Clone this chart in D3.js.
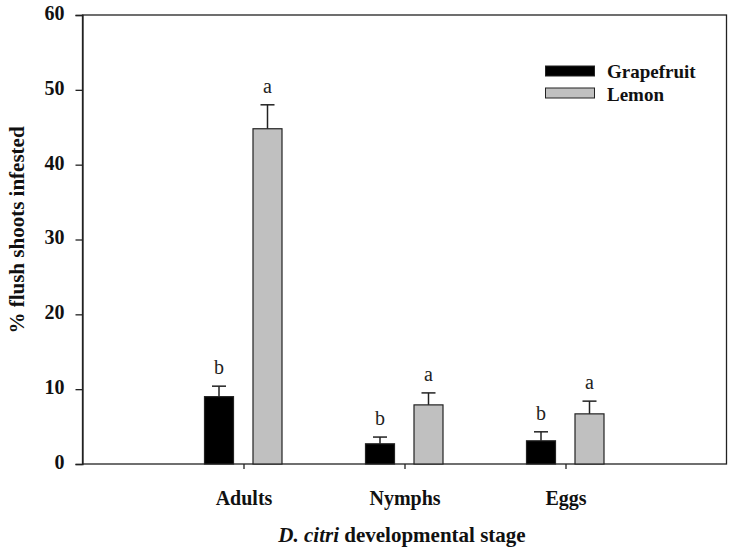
<!DOCTYPE html>
<html>
<head>
<meta charset="utf-8">
<script src="https://cdn.jsdelivr.net/npm/d3@7"></script>
<style>
  body { margin: 0; background: #fff; }
</style>
</head>
<body>
<svg id="chart" width="733" height="553"></svg>
<script>
const categories = ["Adults", "Nymphs", "Eggs"];
const seriesNames = ["Grapefruit", "Lemon"];
const grapefruit = [9.0, 2.7, 3.1];
const grapefruitErr = [1.4, 0.9, 1.2];
const lemon = [44.8, 7.9, 6.7];
const lemonErr = [3.2, 1.6, 1.7];
const grapefruitLetters = ["b", "b", "b"];
const lemonLetters = ["a", "a", "a"];
const yTicks = [0, 10, 20, 30, 40, 50, 60];

const FONT = "'Liberation Serif', 'Times New Roman', serif";
const svg = d3.select("#chart");
const L = 82.5, R = 726.5, T = 15, B = 464;

const x = d3.scalePoint().domain(categories).range([L, R]).padding(1);
const y = d3.scaleLinear().domain([0, 60]).range([B, T]);
const offset = d3.scaleOrdinal().domain(seriesNames).range([-24.5, 24]);
const colors = d3.scaleOrdinal().domain(seriesNames).range(["#000000", "#c0c0c0"]);
const barW = 29;

const data = [];
categories.forEach((c, i) => {
  data.push({cat: c, s: "Grapefruit", v: grapefruit[i], e: grapefruitErr[i], l: grapefruitLetters[i]});
  data.push({cat: c, s: "Lemon", v: lemon[i], e: lemonErr[i], l: lemonLetters[i]});
});

// frame
svg.append("rect").attr("x", L).attr("y", T).attr("width", R - L).attr("height", B - T)
  .attr("fill", "none").attr("stroke", "#222").attr("stroke-width", 1.3);

// y axis
const yAxis = svg.append("g").attr("transform", `translate(${L},0)`)
  .call(d3.axisLeft(y).tickValues(yTicks).tickSize(7).tickPadding(11));
yAxis.select(".domain").attr("stroke", "#222").attr("stroke-width", 1.3);
yAxis.selectAll(".tick line").attr("stroke", "#222").attr("stroke-width", 1.3);
yAxis.selectAll("text").attr("dy", "0.22em")
  .style("font-family", FONT).style("font-size", "20px").style("font-weight", "bold").style("fill", "#111");

// x axis
const xAxis = svg.append("g").attr("transform", `translate(0,${B})`)
  .call(d3.axisBottom(x).tickSize(5).tickPadding(22));
xAxis.select(".domain").remove();
xAxis.selectAll(".tick line").attr("stroke", "#222").attr("stroke-width", 1.3);
xAxis.selectAll("text")
  .style("font-family", FONT).style("font-size", "20px").style("font-weight", "bold").style("fill", "#111");

// error bars
const eb = svg.append("g");
data.forEach(d => {
  const cx = x(d.cat) + offset(d.s);
  eb.append("line").attr("x1", cx).attr("x2", cx).attr("y1", y(d.v)).attr("y2", y(d.v + d.e))
    .attr("stroke", "#222").attr("stroke-width", 1.5);
  eb.append("line").attr("x1", cx - 7).attr("x2", cx + 7).attr("y1", y(d.v + d.e)).attr("y2", y(d.v + d.e))
    .attr("stroke", "#222").attr("stroke-width", 1.5);
});

// bars
svg.append("g").selectAll("rect").data(data).join("rect")
  .attr("x", d => x(d.cat) + offset(d.s) - barW / 2)
  .attr("y", d => y(d.v))
  .attr("width", barW)
  .attr("height", d => y(0) - y(d.v))
  .attr("fill", d => colors(d.s))
  .attr("stroke", "#222").attr("stroke-width", 1.2);

// letters
svg.append("g").selectAll("text").data(data).join("text")
  .attr("x", d => x(d.cat) + offset(d.s))
  .attr("y", d => y(d.v + d.e) - 12)
  .attr("text-anchor", "middle")
  .style("font-family", FONT).style("font-size", "20px").style("fill", "#222")
  .text(d => d.l);

// legend
const lg = svg.append("g");
seriesNames.forEach((s, i) => {
  lg.append("rect").attr("x", 545.5).attr("y", 66 + i * 22).attr("width", 49).attr("height", 10)
    .attr("fill", colors(s)).attr("stroke", "#222").attr("stroke-width", 1);
  lg.append("text").attr("x", 607).attr("y", 78 + i * 22.5)
    .style("font-family", FONT).style("font-size", "19px").style("font-weight", "bold").style("fill", "#111")
    .text(s);
});

// y title
svg.append("text").attr("transform", "translate(24,230) rotate(-90)")
  .attr("text-anchor", "middle")
  .style("font-family", FONT).style("font-size", "21px").style("font-weight", "bold").style("fill", "#111")
  .text("% flush shoots infested");

// x title
const xt = svg.append("text").attr("x", 402).attr("y", 542)
  .attr("text-anchor", "middle")
  .style("font-family", FONT).style("font-size", "21px").style("font-weight", "bold").style("fill", "#111");
xt.append("tspan").style("font-style", "italic").text("D. citri");
xt.append("tspan").text(" developmental stage");
</script>
</body>
</html>
